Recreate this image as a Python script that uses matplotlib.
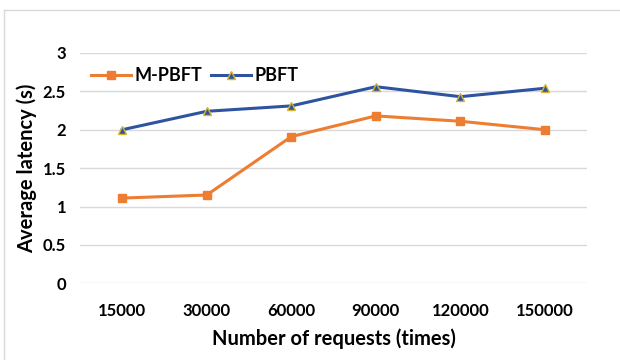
import matplotlib
matplotlib.use("Agg")
import matplotlib.pyplot as plt
from matplotlib.lines import Line2D
import numpy as np

plt.rcParams["font.family"] = ["Lato", "DejaVu Sans"]

requests = ["15000", "30000", "60000", "90000", "120000", "150000"]
m_pbft = [1.11, 1.15, 1.91, 2.18, 2.11, 2.00]
pbft = [2.00, 2.24, 2.31, 2.56, 2.43, 2.54]
yticks = [0, 0.5, 1, 1.5, 2, 2.5, 3]
ytick_labels = ["0", "0.5", "1", "1.5", "2", "2.5", "3"]

fig = plt.figure(figsize=(6.2, 3.6), dpi=100)
ax = fig.add_axes([0.129, 0.213, 0.818, 0.64])

x = np.arange(len(requests))
ax.plot(x, m_pbft, color="#ED7D31", lw=2.2, marker="s", ms=6,
        markerfacecolor="#ED7D31", markeredgecolor="#ED7D31", label="M-PBFT")
ax.plot(x, pbft, color="#2E54A1", lw=2.2, marker="^", ms=6,
        markerfacecolor="#2E54A1", markeredgecolor="#D6B430", markeredgewidth=1,
        label="PBFT")

ax.set_xlim(-0.5, len(requests) - 0.5)
ax.set_ylim(0, 3)
ax.set_xticks(x)
ax.set_xticklabels(requests)
ax.set_yticks(yticks)
ax.set_yticklabels(ytick_labels)
ax.tick_params(length=0, labelsize=12, pad=10)
for lbl in ax.get_xticklabels() + ax.get_yticklabels():
    lbl.set_fontweight("bold")
ax.tick_params(axis="x", pad=14)
ax.grid(axis="y", color="#d9d9d9", lw=1)
ax.set_axisbelow(True)
for s in ax.spines.values():
    s.set_visible(False)

ax.set_xlabel("Number of requests (times)", fontsize=14.5, fontweight="bold", labelpad=7)
ax.set_ylabel("Average latency (s)", fontsize=14.5, fontweight="bold", labelpad=4)

ax.legend(loc="upper left", bbox_to_anchor=(0.0, 0.985), ncol=2, frameon=False,
          prop={"size": 13, "weight": "bold"}, handlelength=2.2,
          handletextpad=0.2, columnspacing=0.5, borderaxespad=0.2)

# outer chart border (top and left edges)
fig.add_artist(Line2D([4 / 620, 4 / 620], [0, 1 - 10 / 360], transform=fig.transFigure,
                      color="#d9d9d9", lw=1))
fig.add_artist(Line2D([4 / 620, 1], [1 - 10 / 360, 1 - 10 / 360], transform=fig.transFigure,
                      color="#d9d9d9", lw=1))

fig.savefig("out.png", dpi=100)
